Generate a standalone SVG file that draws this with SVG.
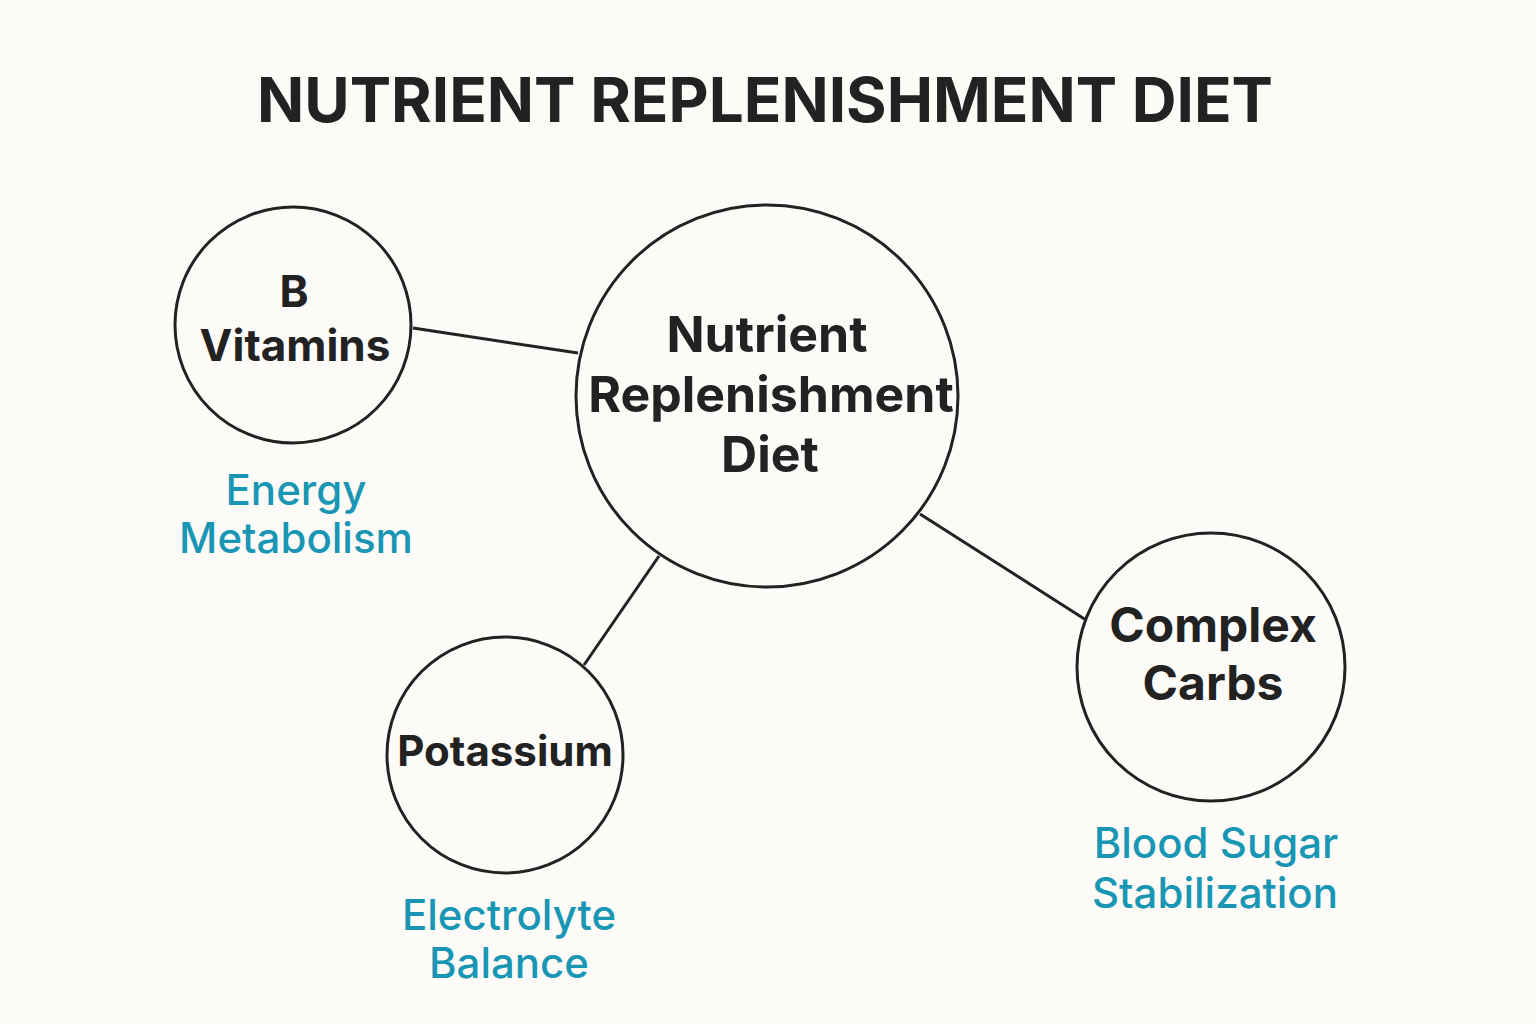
<svg xmlns="http://www.w3.org/2000/svg" width="1536" height="1024" viewBox="0 0 1536 1024">
<style>
.n{fill:none;stroke:#222;stroke-width:3}
.t{font-family:Inter,"Liberation Sans",sans-serif;font-weight:700;fill:#222;text-anchor:middle}
.l{font-family:Inter,"Liberation Sans",sans-serif;font-weight:500;fill:#1a96b5;text-anchor:middle;font-size:42px}
</style>
<rect width="1536" height="1024" fill="#fcfbf8"/>
<text class="t" x="765" y="122" font-size="62">NUTRIENT REPLENISHMENT DIET</text>
<g id="connectors" stroke="#222" stroke-width="3">
<line x1="413" y1="328" x2="578" y2="353"/>
<line x1="659" y1="556" x2="584" y2="665"/>
<line x1="920" y1="514" x2="1086" y2="620"/>
</g>
<g id="center"><circle class="n" cx="767" cy="396" r="191"/>
<text class="t" font-size="50"><tspan x="767" y="352">Nutrient</tspan><tspan x="771" y="412">Replenishment</tspan><tspan x="770" y="472">Diet</tspan></text></g>
<g id="bvit"><circle class="n" cx="293" cy="325" r="118"/>
<text class="t" font-size="44"><tspan x="294" y="307">B</tspan><tspan x="295" y="361">Vitamins</tspan></text>
<text class="l"><tspan x="296" y="505">Energy</tspan><tspan x="296" y="553">Metabolism</tspan></text></g>
<g id="potassium"><circle class="n" cx="505" cy="755" r="118"/>
<text class="t" font-size="42" x="505" y="766">Potassium</text>
<text class="l"><tspan x="509" y="930">Electrolyte</tspan><tspan x="509" y="978">Balance</tspan></text></g>
<g id="carbs"><circle class="n" cx="1211" cy="667" r="134"/>
<text class="t" font-size="48"><tspan x="1213" y="642">Complex</tspan><tspan x="1213" y="700">Carbs</tspan></text>
<text class="l"><tspan x="1216" y="858">Blood Sugar</tspan><tspan x="1215" y="908">Stabilization</tspan></text></g>
</svg>
